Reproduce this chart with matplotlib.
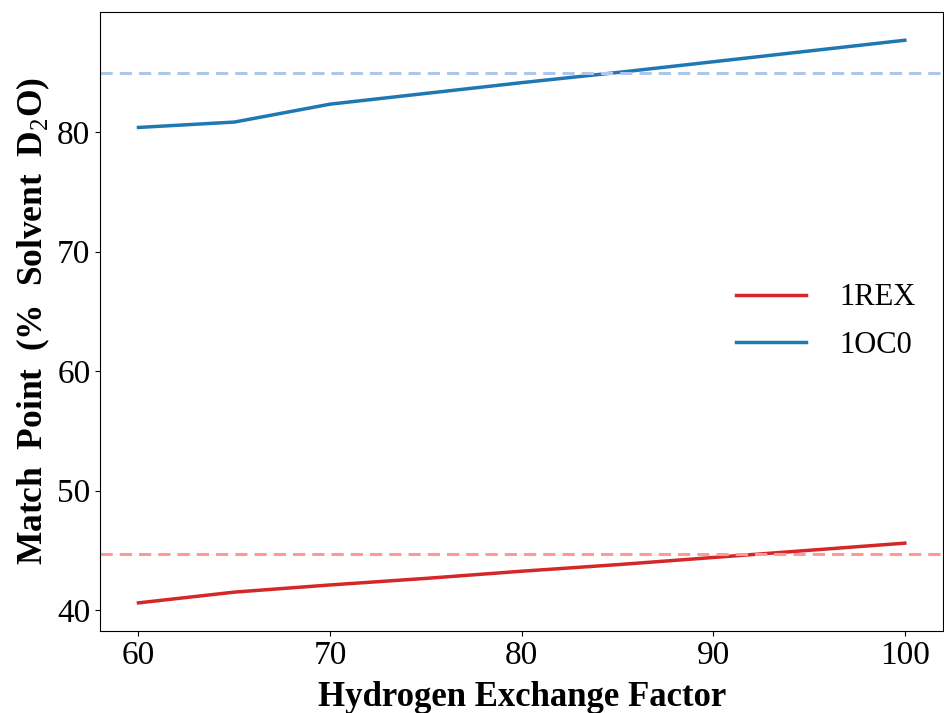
import numpy as np
import matplotlib.pyplot as plt

# hydrogen exchange factor (x) and match points
hx = [60, 65, 70, 75, 80, 85, 90, 95, 100]
mp_1rex = [40.6, 41.5, 42.1, 42.65, 43.25, 43.8, 44.4, 45.0, 45.6]
mp_1oc0 = [80.4, 80.85, 82.35, 83.25, 84.15, 85.0, 85.9, 86.8, 87.7]
ref_1rex = 44.7
ref_1oc0 = 85.0

def main():
	plt.rcParams['font.family'] = ['Liberation Serif', 'DejaVu Serif']
	plt.rcParams['mathtext.fontset'] = 'custom'
	plt.rcParams['mathtext.rm'] = 'Liberation Serif'
	plt.rcParams['mathtext.bf'] = 'Liberation Serif:bold'

	fig = plt.figure(figsize=(9.45, 7.13), dpi=100)
	ax = fig.add_axes([0.106, 0.115, 0.892, 0.868])

	ax.plot(hx, mp_1rex, color='#d62728', lw=2.5, label='1REX')
	ax.plot(hx, mp_1oc0, color='#1f77b4', lw=2.5, label='1OC0')
	ax.axhline(ref_1rex, color='#ff9896', ls='--', lw=2.2, dashes=(4, 2.3))
	ax.axhline(ref_1oc0, color='#aec7e8', ls='--', lw=2.2, dashes=(4, 2.3))

	ax.set_xticks([60, 70, 80, 90, 100])
	ax.set_yticks([40, 50, 60, 70, 80])
	ax.tick_params(labelsize=24)
	ax.set_xlabel('Hydrogen Exchange Factor', fontsize=25, fontweight='bold', labelpad=7)
	ax.set_ylabel(r'Match  Point  (%  Solvent  D$_\mathrm{2}$O)', fontsize=25.5, fontweight='bold', labelpad=4)
	ax.legend(loc='center right', frameon=False, fontsize=22, handlelength=2.3,
		handletextpad=1.1, labelspacing=0.6, bbox_to_anchor=(1.0, 0.5))

	fig.savefig('out.png', dpi=100)

if __name__ == '__main__':
	main()
